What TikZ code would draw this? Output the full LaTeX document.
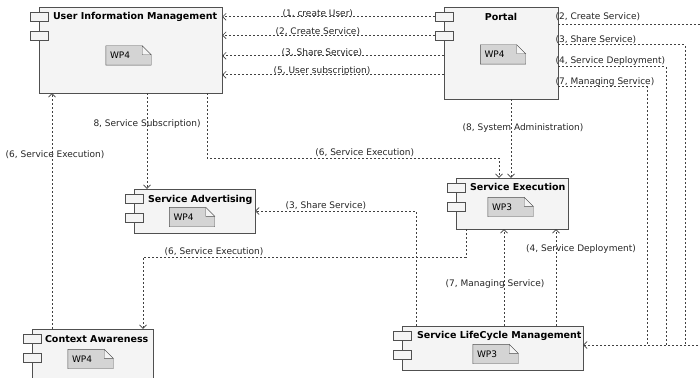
\documentclass[tikz,border=0pt]{standalone}
\usepackage{fontspec}
\setmainfont{DejaVu Sans}
\usetikzlibrary{arrows.meta}
\definecolor{boxfill}{HTML}{F4F4F4}
\definecolor{notefill}{HTML}{D4D4D4}
\definecolor{edge}{HTML}{505050}

\begin{document}
\begin{tikzpicture}[x=1pt, y=-1pt,
  comp/.style = {shape=rectangle, draw=edge, fill=boxfill, inner sep=0pt},
  ico/.style = {shape=rectangle, draw=edge, fill=boxfill,
    minimum width=18pt, minimum height=9pt, inner sep=0pt},
  ttl/.style = {anchor=west, inner sep=0pt, font=\fontsize{9.5}{11}\selectfont\bfseries},
  wp/.style = {shape=rectangle, minimum width=45pt, minimum height=19pt, inner sep=0pt},
  wptxt/.style = {anchor=west, inner sep=0pt, font=\fontsize{9}{11}\selectfont},
  lbl/.style = {inner sep=1pt, text=black!85, font=\fontsize{9}{11}\selectfont},
  dep/.style = {draw=black!75, dash pattern=on 2pt off 2pt, line width=0.7pt},
  arr/.style = {dep, -{Straight Barb[length=3.5pt,width=7pt]}}]
  \fill[white] (0,0) rectangle (700,377);
  \useasboundingbox (0,0) rectangle (700,377);

  % components
  \node[comp, minimum width=183pt, minimum height=86pt] (uim) at (130.5,50) {};
  \node[comp, minimum width=114pt, minimum height=92pt] (portal) at (501,53) {};
  \node[comp, minimum width=121pt, minimum height=44pt] (sadv) at (194.5,211) {};
  \node[comp, minimum width=112pt, minimum height=51pt] (sexec) at (512,203.5) {};
  \node[comp, minimum width=121pt, minimum height=58pt] (ctx) at (92.5,358) {};
  \node[comp, minimum width=181pt, minimum height=44pt] (slm) at (492.5,348) {};
  \foreach \c in {uim, portal, sadv, sexec, ctx, slm} {
    \node[ico] (\c-i1) at ([yshift=-10pt]\c.north west) {};
    \node[ico] (\c-i2) at ([yshift=-28.5pt]\c.north west) {};
  }
  \node[ttl] (uim-t) at ([xshift=14pt,yshift=-10pt]uim.north west) {User Information Management};
  \node[ttl, anchor=center] (portal-t) at ([yshift=-10pt]portal.north) {Portal};
  \node[ttl] (sadv-t) at ([xshift=14pt,yshift=-11pt]sadv.north west) {Service Advertising};
  \node[ttl] (sexec-t) at ([xshift=14pt,yshift=-9pt]sexec.north west) {Service Execution};
  \node[ttl] (ctx-t) at ([xshift=13pt,yshift=-10pt]ctx.north west) {Context Awareness};
  \node[ttl] (slm-t) at ([xshift=15pt,yshift=-10pt]slm.north west) {Service LifeCycle Management};

  % work package notes
  \node[wp] (uim-wp) at (128.5,55.5) {};
  \node[wp] (portal-wp) at (503,54.5) {};
  \node[wp] (sadv-wp) at (192,217) {};
  \node[wp] (sexec-wp) at (510.5,207) {};
  \node[wp] (ctx-wp) at (90.5,359) {};
  \node[wp] (slm-wp) at (495.5,354) {};
  \foreach \c/\w in {uim/WP4, portal/WP4, sadv/WP4, sexec/WP3, ctx/WP4, slm/WP3} {
    \draw[draw=edge, fill=notefill] (\c-wp.south west) -- (\c-wp.north west)
      -- ([xshift=-9pt]\c-wp.north east) -- ([yshift=-9pt]\c-wp.north east)
      -- (\c-wp.south east) -- cycle;
    \draw[draw=edge, fill=boxfill] ([xshift=-9pt]\c-wp.north east)
      |- ([yshift=-9pt]\c-wp.north east) -- cycle;
    \node[wptxt] (\c-wpt) at ([xshift=4pt]\c-wp.west) {\w};
  }

  % portal -> user information management
  \coordinate (p3) at ([yshift=-49pt]portal.north west);
  \coordinate (p5) at ([yshift=-68pt]portal.north west);
  \draw[arr] (portal-i1.west) -- node[lbl, above, pos=0.55, yshift=-2pt] (l1) {(1, create User)} (portal-i1.west -| uim.east);
  \draw[arr] (portal-i2.west) -- node[lbl, above, pos=0.55, yshift=-2pt] (l2) {(2, Create Service)} (portal-i2.west -| uim.east);
  \draw[arr] (p3) -- node[lbl, above, pos=0.55, yshift=-2pt] (l3) {(3, Share Service)} (p3 -| uim.east);
  \draw[arr] (p5) -- node[lbl, above, pos=0.55, yshift=-2pt] (l5) {(5, User subscription)} (p5 -| uim.east);

  % portal -> service lifecycle management (round the right side)
  \coordinate (pr2) at ([yshift=-18pt]portal.north east);
  \coordinate (pr3) at ([yshift=-38pt]portal.north east);
  \coordinate (pr4) at ([yshift=-60pt]portal.north east);
  \coordinate (pr7) at ([yshift=-80pt]portal.north east);
  \coordinate (slm-in) at ([yshift=3pt]slm.east);
  \coordinate (k2) at (slm-in -| 712,0);
  \coordinate (k3) at (slm-in -| 685,0);
  \coordinate (k4) at (slm-in -| 666,0);
  \coordinate (k7) at (slm-in -| 647,0);
  \draw[dep] (pr7) node[lbl, anchor=south west, xshift=-4pt, yshift=-1pt] (l7r) {(7, Managing Service)} -| (k7);
  \draw[dep] (pr4) node[lbl, anchor=south west, xshift=-4pt] (l4r) {(4, Service Deployment)} -| (k4);
  \draw[dep] (pr3) node[lbl, anchor=south west, xshift=-4pt] (l3r) {(3, Share Service)} -| (k3);
  \draw[arr] (pr2) node[lbl, anchor=south west, xshift=-4pt, yshift=3pt] (l2r) {(2, Create Service)} -| (k2) -- (slm-in);

  % middle connectors
  \coordinate (u1) at ([xshift=76.5pt]uim.south);
  \coordinate (u2) at ([xshift=16.5pt]uim.south);
  \coordinate (s1) at ([xshift=-13pt]sexec.north);
  \coordinate (p8) at ([xshift=10pt]portal.south);
  \draw[arr] (u1) -- ++(0,65) -- node[lbl, above, pos=0.54] (l6a) {(6, Service Execution)} ++(292,0) -- (s1);
  \draw[arr] (p8) -- node[lbl, pos=0.37, xshift=12pt] (l8) {(8, System Administration)} (p8 |- sexec.north);
  \draw[arr] (u2) -- node[lbl, pos=0.32] (l8b) {8, Service Subscription)} (u2 |- sadv.north);

  \coordinate (c1) at ([xshift=-40.5pt]ctx.north);
  \coordinate (c2) at ([xshift=50.5pt]ctx.north);
  \coordinate (e1) at ([xshift=-46pt]sexec.south);
  \draw[arr] (c1) -- node[lbl, pos=0.74, xshift=3pt] (l6b) {(6, Service Execution)} (c1 |- uim.south);
  \draw[arr] (e1) -- ++(0,28) -- node[lbl, above, pos=0.78] (l6c) {(6, Service Execution)} ++(-323,0) -- (c2);

  \coordinate (m1) at ([xshift=-76.5pt]slm.north);
  \coordinate (m2) at ([xshift=11.5pt]slm.north);
  \coordinate (m3) at ([xshift=63.5pt]slm.north);
  \draw[arr] (m1) |- node[lbl, above, pos=0.78] (l3c) {(3, Share Service)} (sadv.east);
  \draw[arr] (m2) -- node[lbl, pos=0.43, xshift=-9pt] (l7c) {(7, Managing Service)} (m2 |- sexec.south);
  \draw[arr] (m3) -- node[lbl, pos=0.8, xshift=25pt] (l4c) {(4, Service Deployment)} (m3 |- sexec.south);
\end{tikzpicture}
\end{document}
